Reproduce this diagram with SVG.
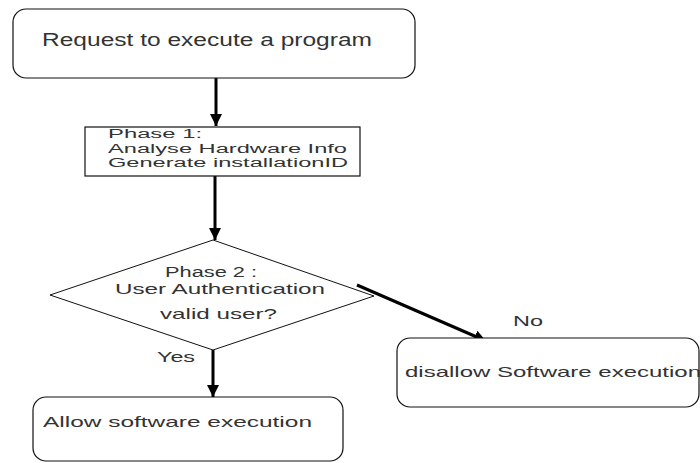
<svg xmlns="http://www.w3.org/2000/svg" width="700" height="463" viewBox="0 0 700 463">
<style>
.box{fill:#fff;stroke:#111;stroke-width:1.2}
.t{font-family:"Liberation Sans",Arial,sans-serif;fill:#333}
.c{stroke:#000;stroke-width:3;fill:none}
</style>
<defs>
<marker id="ah" viewBox="0 0 10 10" refX="10" refY="5" markerWidth="4" markerHeight="5" markerUnits="strokeWidth" orient="auto">
<path d="M0,0 L10,5 L0,10 Z" fill="#000"/>
</marker>
</defs>
<rect width="700" height="463" fill="#fff"/>
<g id="connectors">
<line class="c" x1="216" y1="78" x2="216" y2="126" marker-end="url(#ah)"/>
<line class="c" x1="215" y1="176" x2="215" y2="240" marker-end="url(#ah)"/>
<line class="c" x1="213" y1="350" x2="213" y2="397" marker-end="url(#ah)"/>
<line class="c" x1="357" y1="285" x2="486" y2="341" stroke-width="2.5" marker-end="url(#ah)"/>
<text class="t" x="513" y="326" font-size="15" textLength="30" lengthAdjust="spacingAndGlyphs">No</text>
<text class="t" x="157" y="362" font-size="15" textLength="38" lengthAdjust="spacingAndGlyphs">Yes</text>
</g>
<g id="request">
<rect class="box" x="13" y="9" width="402" height="69" rx="13"/>
<text class="t" x="42" y="46" font-size="17.5" textLength="330" lengthAdjust="spacingAndGlyphs">Request to execute a program</text>
</g>
<g id="phase1">
<rect class="box" x="85" y="127" width="275" height="49"/>
<text class="t" x="108" y="138" font-size="12.5" textLength="94" lengthAdjust="spacingAndGlyphs">Phase 1:</text>
<text class="t" x="108" y="153" font-size="12.5" textLength="239" lengthAdjust="spacingAndGlyphs">Analyse Hardware Info</text>
<text class="t" x="108" y="167" font-size="12.5" textLength="240" lengthAdjust="spacingAndGlyphs">Generate installationID</text>
</g>
<g id="phase2">
<polygon points="213,240 374,296 213,350 50,295" fill="#fff" stroke="#111" stroke-width="1"/>
<text class="t" x="165" y="277" font-size="14" textLength="92" lengthAdjust="spacingAndGlyphs">Phase 2 :</text>
<text class="t" x="115" y="294" font-size="14" textLength="210" lengthAdjust="spacingAndGlyphs">User Authentication</text>
<text class="t" x="160" y="319" font-size="14.5" textLength="117" lengthAdjust="spacingAndGlyphs">valid user?</text>
</g>
<g id="disallow">
<rect class="box" x="397" y="338" width="302" height="69" rx="13"/>
<text class="t" x="405" y="377" font-size="15" textLength="296" lengthAdjust="spacingAndGlyphs">disallow Software execution</text>
</g>
<g id="allow">
<rect class="box" x="33" y="397" width="310" height="64" rx="13"/>
<text class="t" x="43" y="427" font-size="15" textLength="269" lengthAdjust="spacingAndGlyphs">Allow software execution</text>
</g>
</svg>
